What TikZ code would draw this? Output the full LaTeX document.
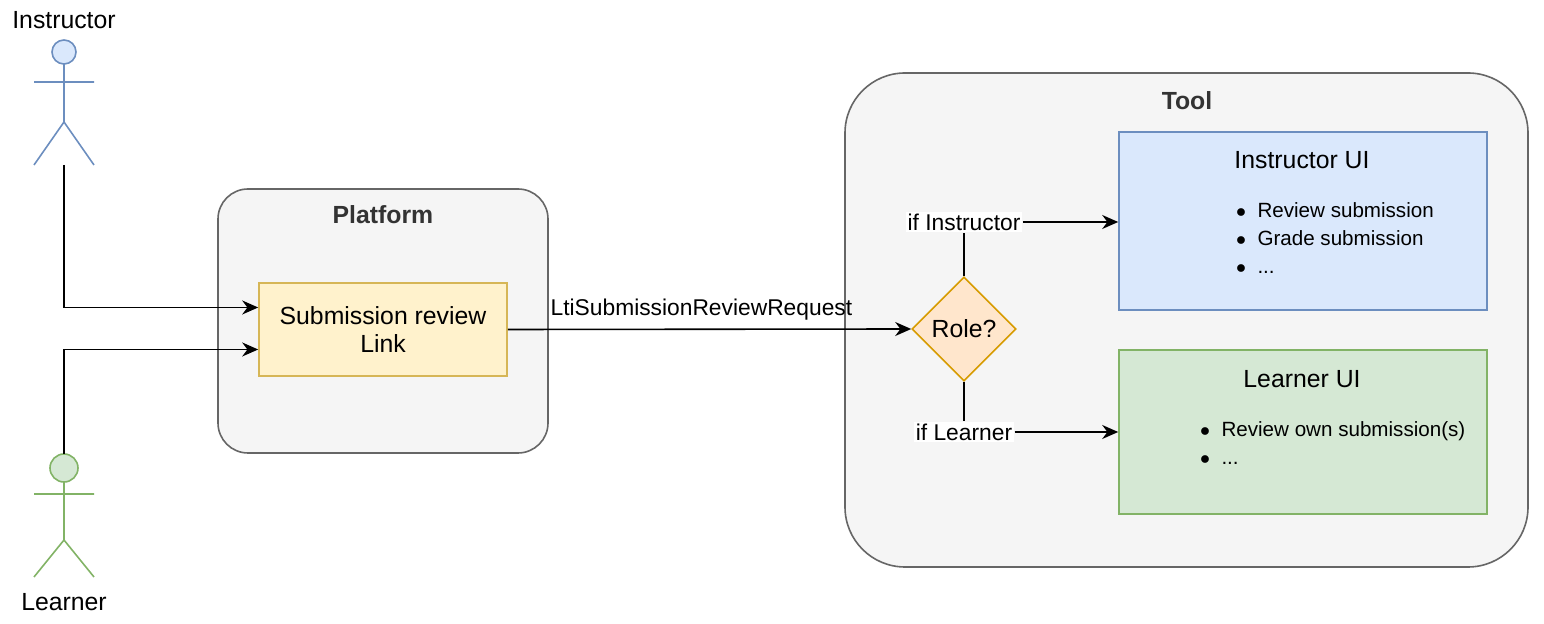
\documentclass[tikz,border=0pt]{standalone}
\usepackage{fontspec}
\setmainfont{Liberation Sans}
\usetikzlibrary{shapes.geometric,arrows.meta}
\definecolor{bluef}{HTML}{DAE8FC}\definecolor{blues}{HTML}{6C8EBF}
\definecolor{greenf}{HTML}{D5E8D4}\definecolor{greens}{HTML}{82B366}
\definecolor{grayf}{HTML}{F5F5F5}\definecolor{grays}{HTML}{666666}
\definecolor{yelf}{HTML}{FFF2CC}\definecolor{yels}{HTML}{D6B656}
\definecolor{orf}{HTML}{FFE6CC}\definecolor{ors}{HTML}{D79B00}
\begin{document}
\begin{tikzpicture}[x=0.5pt,y=-0.5pt,font=\fontsize{12.4}{14}\selectfont,
  arr/.style={-{Stealth[length=8pt,width=7pt]},line width=0.8pt},
  cont/.style={draw=grays,fill=grayf,line width=0.8pt},
  lbl/.style={fill=white,inner sep=1pt,font=\fontsize{11.4}{13}\selectfont}]
\useasboundingbox (0,0) rectangle (1544,624);
% actors
\begin{scope}[draw=blues,line width=0.8pt]
\draw[fill=bluef] (64,52) circle[radius=6pt];
\draw (64,64)--(64,122) (34,82)--(94,82) (34,165)--(64,122)--(94,165);
\end{scope}
\node (ilab) at (64,20) {Instructor};
\coordinate (ifoot) at (64,165);
\begin{scope}[draw=greens,line width=0.8pt]
\draw[fill=greenf] (64,468) circle[radius=7pt];
\draw (64,482)--(64,540) (34,494)--(94,494) (34,577)--(64,540)--(94,577);
\end{scope}
\node (llab) at (64,602) {Learner};
\coordinate (lhead) at (64,454);
% platform
\draw[cont,rounded corners=15pt] (218,189) rectangle (548,453);
\node[font=\fontsize{12.4}{14}\selectfont\bfseries,text=black!80] (plab) at (383,215) {Platform};
\node[draw=yels,fill=yelf,line width=0.8pt,minimum width=124pt,minimum height=46.5pt,align=center] (link) at (383,329.5) {Submission review\\Link};
% tool
\draw[cont,rounded corners=30pt] (845,73) rectangle (1528,567);
\node[font=\fontsize{12.4}{14}\selectfont\bfseries,text=black!80] (tlab) at (1187,101) {Tool};
\node[draw=blues,fill=bluef,line width=0.8pt,minimum width=184pt,minimum height=89pt] (iui) at (1303,221) {};
\node (iuit) at (1302,160) {Instructor UI};
\node[font=\fontsize{10.3}{14}\selectfont,align=left,anchor=north west] (iuib) at (1229,196) {$\bullet$\ \ Review submission\\$\bullet$\ \ Grade submission\\$\bullet$\ \ ...};
\node[draw=greens,fill=greenf,line width=0.8pt,minimum width=184pt,minimum height=82pt] (lui) at (1303,432) {};
\node (luit) at (1302,379) {Learner UI};
\node[font=\fontsize{10.3}{14}\selectfont,align=left,anchor=north west] (luib) at (1193,415) {$\bullet$\ \ Review own submission(s)\\$\bullet$\ \ ...};
\node[diamond,draw=ors,fill=orf,line width=0.8pt,minimum width=52pt,minimum height=52pt,inner sep=0pt] (role) at (964,329) {Role?};
% connectors
\draw[arr] (ifoot) |- ([yshift=11pt]link.west);
\draw[arr] (lhead) |- ([yshift=-10pt]link.west);
\draw[arr] (link.east) -- node[above=1pt,pos=0.48,font=\fontsize{11.4}{13}\selectfont] {LtiSubmissionReviewRequest} (role.west);
\node[lbl] (ifi) at (964,222) {if Instructor};
\node[lbl] (ifl) at (964,432) {if Learner};
\draw[line width=0.8pt] (role.north) -- (ifi.south);
\draw[line width=0.8pt] (role.south) -- (ifl.north);
\draw[arr] (ifi.east) -- (ifi.east -| iui.west);
\draw[arr] (ifl.east) -- (ifl.east -| lui.west);
\end{tikzpicture}
\end{document}
